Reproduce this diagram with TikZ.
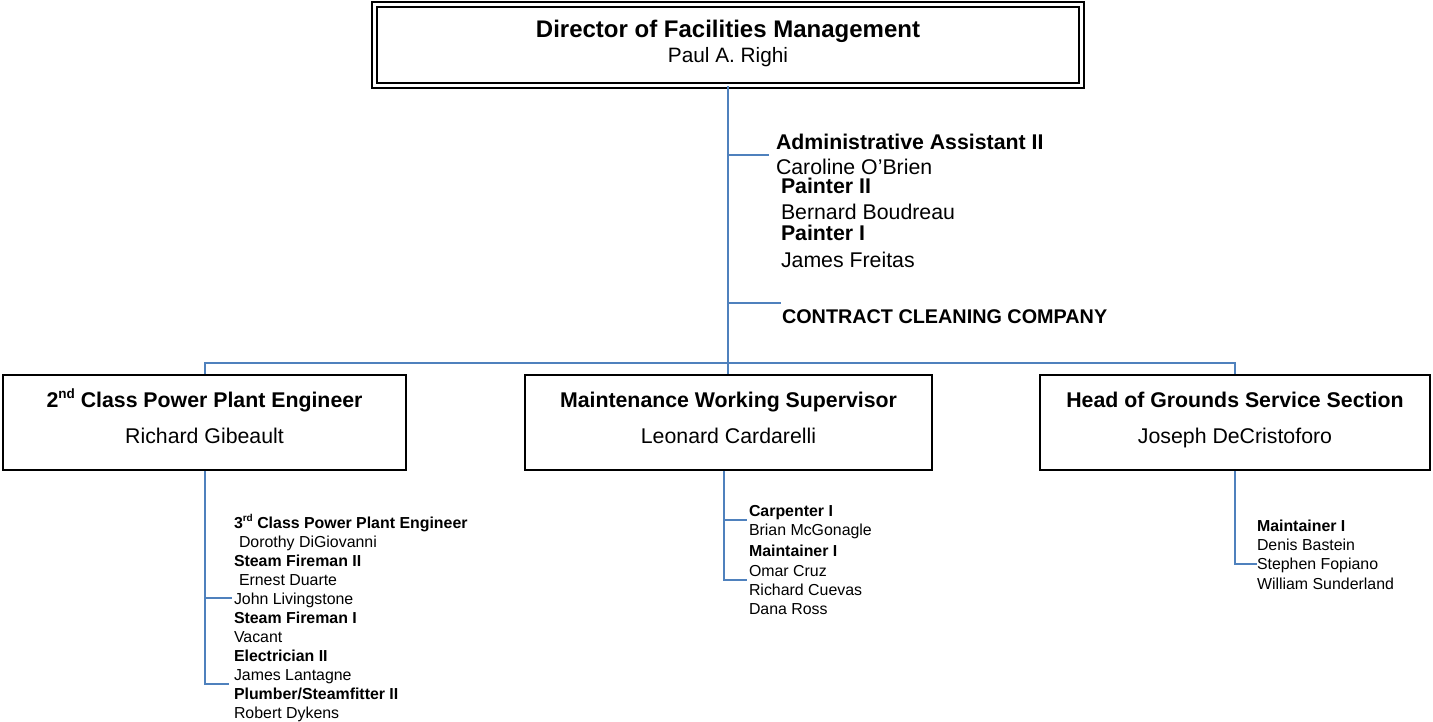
\documentclass[tikz,border=0pt]{standalone}
\usepackage{fontspec}
\setmainfont{Liberation Sans}
\definecolor{conblue}{HTML}{4F81BD}
\newcommand\fTopT{\fontsize{24}{28}\selectfont\bfseries}
\newcommand\fTopN{\fontsize{20.8}{24}\selectfont}
\newcommand\fBoxT{\fontsize{21.3}{25}\selectfont\bfseries}
\newcommand\fBoxN{\fontsize{21.3}{25}\selectfont}
\newcommand\fAdmT{\fontsize{21.3}{25}\selectfont\bfseries}
\newcommand\fAdmN{\fontsize{21.3}{25}\selectfont}
\newcommand\fCon{\fontsize{19.8}{24}\selectfont\bfseries}
\newcommand\fSmT{\fontsize{15.9}{19}\selectfont\bfseries}
\newcommand\fSmN{\fontsize{15.9}{19}\selectfont}
\newcommand\supA[1]{\raisebox{0.42em}{\fontsize{13.5}{14}\selectfont #1}}
\newcommand\supB[1]{\raisebox{0.42em}{\fontsize{10}{10}\selectfont #1}}
\begin{document}
\begin{tikzpicture}[x=1pt,y=-1pt,
  orgbox/.style={draw=black, line width=2pt, fill=white, inner sep=0pt, minimum height=95pt},
  topbox/.style={draw=black, double=white, double distance=3pt, line width=2pt, inner sep=0pt},
  conn/.style={draw=conblue, line width=2pt},
  ctr/.style={anchor=base, inner sep=0pt, outer sep=0pt},
  lbl/.style={anchor=base west, inner sep=0pt, outer sep=0pt}]
\useasboundingbox[fill=white] (0,0) rectangle (1433,721);

% boxes
\node[topbox, minimum width=707pt, minimum height=80.5pt] (dir) at (728,44.75) {};
\node[orgbox, minimum width=403pt] (boxL) at (204.5,422.5) {};
\node[orgbox, minimum width=407pt] (boxM) at (728.5,422.5) {};
\node[orgbox, minimum width=390pt] (boxR) at (1235,422.5) {};

% box texts
\node[ctr, font=\fTopT] (dirT) at (728,37.7) {Director of Facilities Management};
\node[ctr, font=\fTopN] (dirN) at (728,62) {Paul A. Righi};
\node[ctr, font=\fBoxT] (lT) at (204.5,407) {2\supA{nd} Class Power Plant Engineer};
\node[ctr, font=\fBoxN] (lN) at (204.5,443) {Richard Gibeault};
\node[ctr, font=\fBoxT] (mT) at (728.5,407) {Maintenance Working Supervisor};
\node[ctr, font=\fBoxN] (mN) at (728.5,443) {Leonard Cardarelli};
\node[ctr, font=\fBoxT] (rT) at (1235,407) {Head of Grounds Service Section};
\node[ctr, font=\fBoxN] (rN) at (1235,443) {Joseph DeCristoforo};

% staff of the director
\node[lbl, font=\fAdmT] (admT) at (776,149) {Administrative Assistant II};
\node[lbl, font=\fAdmN] (admN) at (776,174) {Caroline O’Brien};
\node[lbl, font=\fAdmT] (p2T) at (781,193) {Painter II};
\node[lbl, font=\fAdmN] (p2N) at (781,219) {Bernard Boudreau};
\node[lbl, font=\fAdmT] (p1T) at (781,240) {Painter I};
\node[lbl, font=\fAdmN] (p1N) at (781,267) {James Freitas};
\node[lbl, font=\fCon] (ccc) at (782,323) {CONTRACT CLEANING COMPANY};

% left list
\node[lbl, font=\fSmT] (l1) at (234,528) {3\supB{rd} Class Power Plant Engineer};
\node[lbl, font=\fSmN] (l2) at (239,547) {Dorothy DiGiovanni};
\node[lbl, font=\fSmT] (l3) at (234,566) {Steam Fireman II};
\node[lbl, font=\fSmN] (l4) at (239,585) {Ernest Duarte};
\node[lbl, font=\fSmN] (l5) at (234,604) {John Livingstone};
\node[lbl, font=\fSmT] (l6) at (234,623) {Steam Fireman I};
\node[lbl, font=\fSmN] (l7) at (234,642) {Vacant};
\node[lbl, font=\fSmT] (l8) at (234,661) {Electrician II};
\node[lbl, font=\fSmN] (l9) at (234,680) {James Lantagne};
\node[lbl, font=\fSmT] (l10) at (234,699) {Plumber/Steamfitter II};
\node[lbl, font=\fSmN] (l11) at (234,718) {Robert Dykens};

% middle list
\node[lbl, font=\fSmT] (m1) at (749,516) {Carpenter I};
\node[lbl, font=\fSmN] (m2) at (749,535) {Brian McGonagle};
\node[lbl, font=\fSmT] (m3) at (749,556) {Maintainer I};
\node[lbl, font=\fSmN] (m4) at (749,576) {Omar Cruz};
\node[lbl, font=\fSmN] (m5) at (749,595) {Richard Cuevas};
\node[lbl, font=\fSmN] (m6) at (749,614) {Dana Ross};

% right list
\node[lbl, font=\fSmT] (r1) at (1257,531) {Maintainer I};
\node[lbl, font=\fSmN] (r2) at (1257,550) {Denis Bastein};
\node[lbl, font=\fSmN] (r3) at (1257,569) {Stephen Fopiano};
\node[lbl, font=\fSmN] (r4) at (1257,589) {William Sunderland};

% connectors
\coordinate (bus) at (728,363);
\coordinate (a1) at (728,155);
\coordinate (a1e) at (769,155);
\coordinate (c1) at (728,303);
\coordinate (c1e) at (781,303);
\draw[conn] (dir.south) -- (dir.south |- boxM.north);
\draw[conn] (boxL.north) |- (bus) -| (boxR.north);
\draw[conn] (a1) -- (a1e);
\draw[conn] (c1) -- (c1e);

\coordinate (lj) at (204.5,598);
\coordinate (lje) at (232,598);
\coordinate (lb) at (204.5,684);
\coordinate (lbe) at (229,684);
\draw[conn] (boxL.south) -- (lb) -- (lbe);
\draw[conn] (lj) -- (lje);

\coordinate (mt) at (724,471);
\coordinate (mj) at (724,520);
\coordinate (mje) at (747,520);
\coordinate (mb) at (724,580);
\coordinate (mbe) at (747,580);
\draw[conn] (mt) -- (mb) -- (mbe);
\draw[conn] (mj) -- (mje);

\coordinate (rb) at (1235,564);
\coordinate (rbe) at (1257,564);
\draw[conn] (boxR.south) -- (rb) -- (rbe);
\end{tikzpicture}
\end{document}
